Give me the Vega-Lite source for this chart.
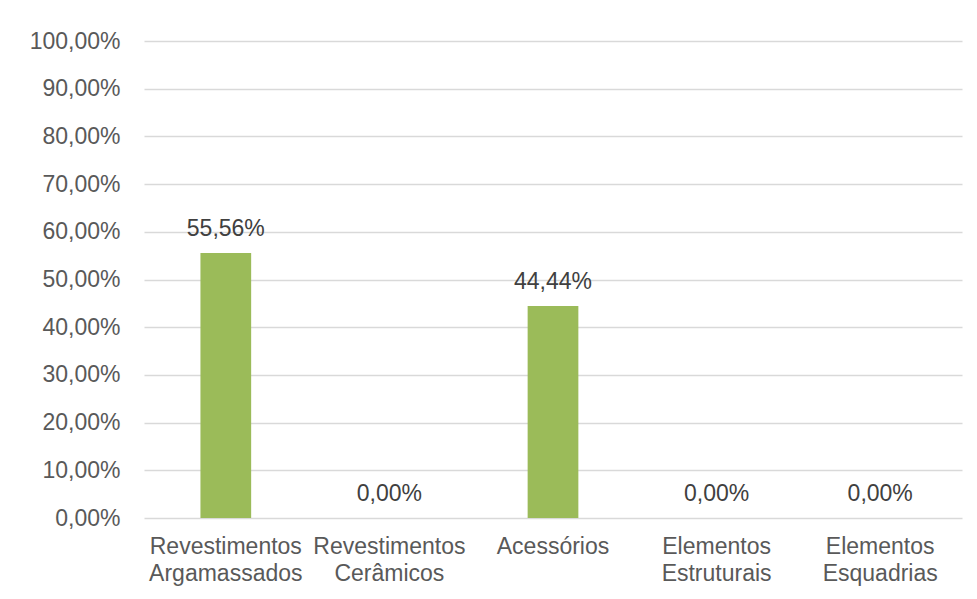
{
  "$schema": "https://vega.github.io/schema/vega-lite/v6.json",
  "width": 818,
  "height": 477,
  "autosize": {"type": "none"},
  "padding": {"left": 144, "top": 41, "right": 15, "bottom": 81},
  "background": "white",
  "config": {
    "locale": {"number": {"decimal": ",", "thousands": ".", "grouping": [3], "currency": ["R$ ", ""]}},
    "view": {"stroke": null},
    "font": "Liberation Sans"
  },
  "data": {
    "values": [
      {"categoria": "Revestimentos Argamassados", "valor": 0.5556},
      {"categoria": "Revestimentos Cerâmicos", "valor": 0.0},
      {"categoria": "Acessórios", "valor": 0.4444},
      {"categoria": "Elementos Estruturais", "valor": 0.0},
      {"categoria": "Elementos Esquadrias", "valor": 0.0}
    ]
  },
  "encoding": {
    "x": {
      "field": "categoria",
      "type": "nominal",
      "sort": null,
      "scale": {"paddingInner": 0.69, "paddingOuter": 0.345},
      "axis": {
        "title": null,
        "labelAngle": 0,
        "domain": false,
        "ticks": false,
        "labelExpr": "split(datum.label, ' ')",
        "labelFontSize": 23,
        "labelColor": "#595959",
        "labelPadding": 17,
        "labelLineHeight": 27,
        "labelLimit": 300
      }
    },
    "y": {
      "field": "valor",
      "type": "quantitative",
      "scale": {"domain": [0, 1], "nice": false},
      "axis": {
        "title": null,
        "values": [0, 0.1, 0.2, 0.3, 0.4, 0.5, 0.6, 0.7, 0.8, 0.9, 1.0],
        "format": ".2%",
        "domain": false,
        "ticks": false,
        "labelFontSize": 23,
        "labelColor": "#595959",
        "labelPadding": 24,
        "gridColor": "#d9d9d9",
        "gridWidth": 1.5
      }
    }
  },
  "layer": [
    {"mark": {"type": "bar", "color": "#9bbb59"}},
    {
      "mark": {"type": "text", "dy": -17, "baseline": "alphabetic", "fontSize": 23, "color": "#404040"},
      "encoding": {"text": {"field": "valor", "type": "quantitative", "format": ".2%"}}
    }
  ]
}
